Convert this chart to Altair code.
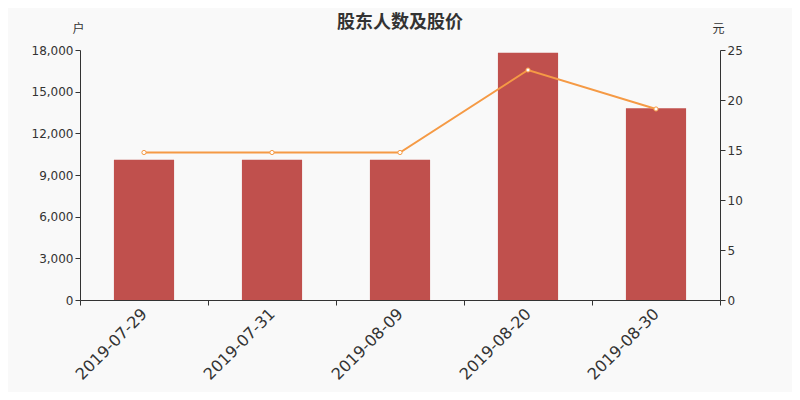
import altair as alt
import pandas as pd

dates = ["2019-07-29", "2019-07-31", "2019-08-09", "2019-08-20", "2019-08-30"]
holders = [10100, 10100, 10100, 17800, 13800]
prices = [14.75, 14.75, 14.75, 23.0, 19.1]

df = pd.DataFrame({"date": dates, "holders": holders, "price": prices})

FONT = "DejaVu Sans, Noto Sans CJK SC"
TXT = "#333333"

x = alt.X(
    "date:N",
    sort=dates,
    scale=alt.Scale(paddingInner=0, paddingOuter=0),
    axis=alt.Axis(
        title=None,
        labelAngle=-45,
        labelAlign="right",
        labelBaseline="middle",
        labelFontSize=16,
        labelColor=TXT,
        labelPadding=6,
        tickBand="extent",
        tickSize=5,
        tickColor=TXT,
        domainColor=TXT,
        labelFont=FONT,
    ),
)

bars = alt.Chart(df).mark_bar(color="#c0504d", width={"band": 0.47}).encode(
    x=x,
    y=alt.Y(
        "holders:Q",
        scale=alt.Scale(domain=[0, 18000]),
        axis=alt.Axis(
            title="户",
            titleAngle=0,
            titleX=-2,
            titleY=-22,
            titleAlign="center",
            titleBaseline="middle",
            titleFontSize=12,
            titleFontWeight="normal",
            titleColor=TXT,
            titleFont=FONT,
            values=[0, 3000, 6000, 9000, 12000, 15000, 18000],
            format=",.0f",
            grid=False,
            labelFontSize=12,
            labelColor=TXT,
            labelFont=FONT,
            tickSize=5,
            tickColor=TXT,
            domainColor=TXT,
        ),
    ),
)

yr = alt.Y(
    "price:Q",
    scale=alt.Scale(domain=[0, 25]),
    axis=alt.Axis(
        orient="right",
        title="元",
        titleAngle=0,
        titleX=-2,
        titleY=-22,
        titleAlign="center",
        titleBaseline="middle",
        titleFontSize=12,
        titleFontWeight="normal",
        titleColor=TXT,
        titleFont=FONT,
        values=[0, 5, 10, 15, 20, 25],
        grid=False,
        labelFontSize=12,
        labelColor=TXT,
        labelFont=FONT,
        tickSize=5,
        tickColor=TXT,
        domainColor=TXT,
    ),
)

line = alt.Chart(df).mark_line(color="#f59a45", strokeWidth=2).encode(x=x, y=yr)
pts = alt.Chart(df).mark_point(
    filled=True, fill="white", stroke="#f59a45", strokeWidth=1, size=18, opacity=1
).encode(x=x, y=yr)

chart = (
    alt.layer(bars, line + pts)
    .resolve_scale(y="independent")
    .properties(
        width=640,
        height=250,
        autosize=alt.AutoSizeParams(type="none"),
        padding={"left": 72, "top": 42, "right": 72, "bottom": 92},
        background="#f9f9f9",
        title=alt.TitleParams(
            "股东人数及股价",
            fontSize=18,
            font="Noto Sans CJK SC",
            fontWeight="bold",
            color=TXT,
            anchor="middle",
            offset=-10,
        ),
    )
    .configure_view(stroke=None)
)

chart.save("out.html", embed_options={"renderer": "svg", "actions": False})
